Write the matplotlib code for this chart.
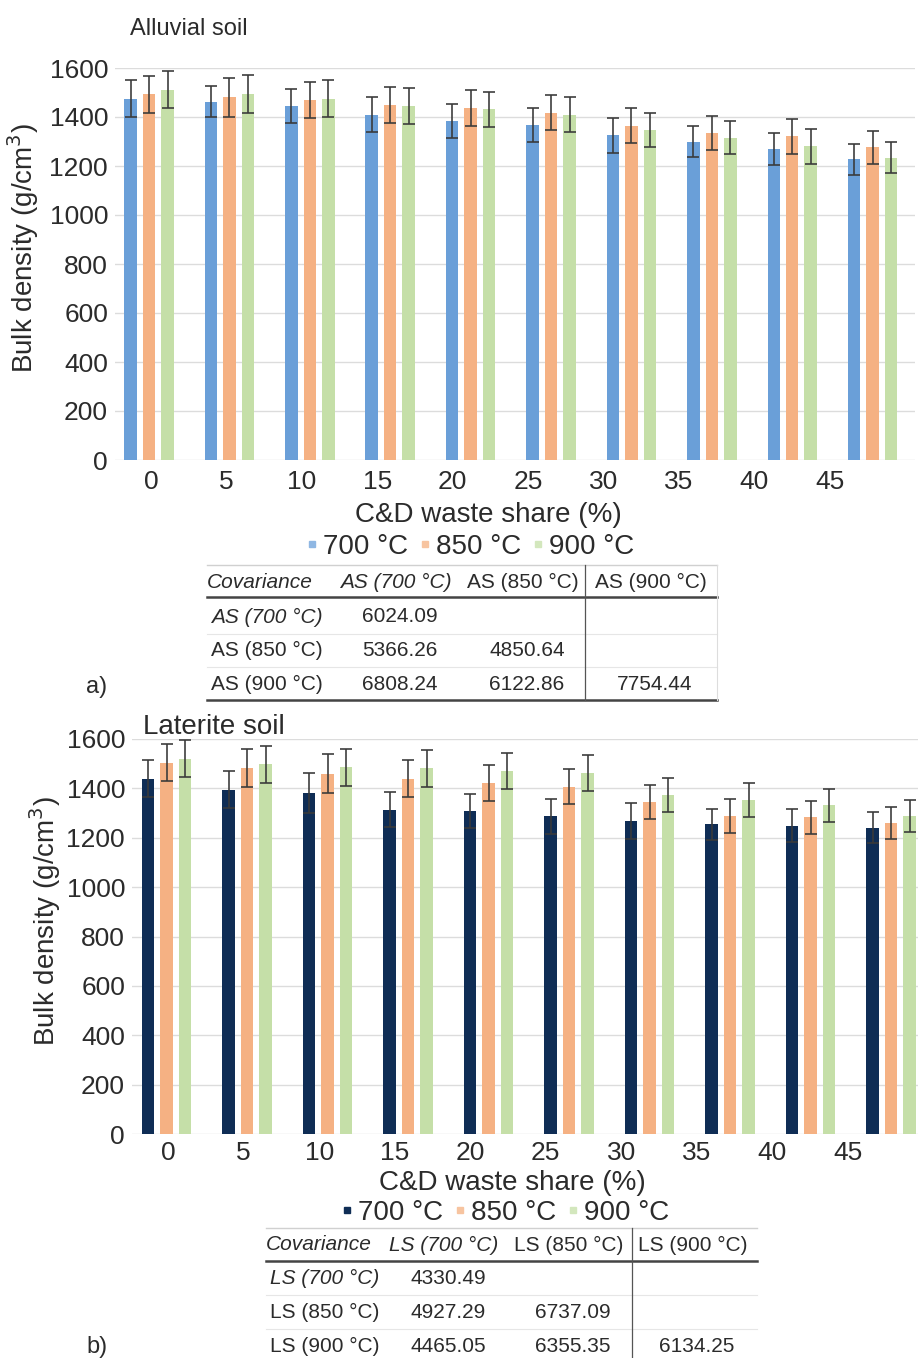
import numpy as np
import matplotlib
matplotlib.use("Agg")
import matplotlib.pyplot as plt
from matplotlib.lines import Line2D

plt.rcParams["font.family"] = ["Liberation Sans", "DejaVu Sans"]

# ---- data -------------------------------------------------------------
shares = ["0", "5", "10", "15", "20", "25", "30", "35", "40", "45"]
temps = ["700 °C", "850 °C", "900 °C"]

as_700 = [1475, 1463, 1444, 1409, 1383, 1366, 1325, 1299, 1270, 1227]
as_850 = [1492, 1481, 1469, 1448, 1436, 1418, 1364, 1335, 1321, 1276]
as_900 = [1511, 1493, 1475, 1445, 1431, 1409, 1346, 1316, 1280, 1234]
as_err_700 = [76, 64, 70, 72, 70, 70, 70, 64, 64, 62]
as_err_850 = [74, 80, 74, 74, 74, 72, 72, 68, 70, 66]
as_err_900 = [76, 78, 76, 72, 72, 72, 70, 68, 70, 64]

ls_700 = [1439, 1395, 1382, 1314, 1308, 1287, 1267, 1254, 1249, 1240]
ls_850 = [1504, 1482, 1460, 1440, 1421, 1406, 1343, 1289, 1283, 1259]
ls_900 = [1521, 1497, 1485, 1481, 1469, 1463, 1373, 1354, 1331, 1287]
ls_err_700 = [75, 74, 81, 70, 68, 70, 72, 64, 68, 63]
ls_err_850 = [74, 76, 78, 74, 72, 71, 69, 69, 66, 66]
ls_err_900 = [76, 74, 76, 74, 73, 74, 70, 69, 68, 64]

as_labels = ["AS (700 °C)", "AS (850 °C)", "AS (900 °C)"]
ls_labels = ["LS (700 °C)", "LS (850 °C)", "LS (900 °C)"]
as_cov = [["6024.09"], ["5366.26", "4850.64"], ["6808.24", "6122.86", "7754.44"]]
ls_cov = [["4330.49"], ["4927.29", "6737.09"], ["4465.05", "6355.35", "6134.25"]]

# ---- layout helpers (pixel positions on a 918 x 1358 canvas) ----------
W, H = 918, 1358
fig = plt.figure(figsize=(W / 100, H / 100), dpi=100)


def fx(x):
    return x / W


def fy(y):
    return 1 - y / H


def axes_px(left, top, right, bottom):
    return fig.add_axes([fx(left), fy(bottom), (right - left) / W, (bottom - top) / H])


TEXT = "#2b2b2b"
GRID = "#dcdcdc"
ERR = "#3a3a3a"
BAR_W = 0.155
OFFS = [-0.23, 0.0, 0.23]
TICK_STEP = 0.938


def bar_panel(ax, series, errs, colors, xlim, tick_off, label_x, xpad):
    x = np.arange(len(shares))
    for off, vals, err, col in zip(OFFS, series, errs, colors):
        ax.bar(x + off, vals, width=BAR_W, color=col, zorder=2)
        ax.errorbar(x + off, vals, yerr=err, fmt="none", ecolor=ERR,
                    elinewidth=1.3, capsize=4, capthick=1.3, zorder=3,
                    alpha=0.9, clip_on=False)
    ax.set_ylim(0, 1600)
    ax.set_xlim(*xlim)
    ax.set_yticks(np.arange(0, 1601, 200))
    ax.yaxis.grid(True, color=GRID, lw=1.0, zorder=0)
    ax.set_axisbelow(True)
    ax.set_xticks(tick_off + TICK_STEP * x)
    ax.set_xticklabels(shares)
    for s in ax.spines.values():
        s.set_visible(False)
    ax.tick_params(axis="both", length=0, labelsize=19, colors=TEXT)
    ax.tick_params(axis="x", pad=xpad)
    ax.tick_params(axis="y", pad=5)
    ax.set_ylabel("Bulk density (g/cm$^3$)", fontsize=20, color=TEXT)
    ax.yaxis.set_label_coords(label_x, 0.54)


def legend_at(colors, cx, cy):
    handles = [Line2D([], [], ls="none", marker="s", ms=5, color=c) for c in colors]
    fig.legend(handles, temps, loc="center", bbox_to_anchor=(fx(cx), fy(cy)),
               ncol=3, frameon=False, fontsize=20, handlelength=0.5,
               handletextpad=0.15, columnspacing=0.35, labelcolor=TEXT,
               borderaxespad=0, borderpad=0)


def hline(y, x0, x1, color, lw):
    fig.add_artist(Line2D([fx(x0), fx(x1)], [fy(y), fy(y)], color=color, lw=lw))


def vline(x, y0, y1, color, lw):
    fig.add_artist(Line2D([fx(x), fx(x)], [fy(y0), fy(y1)], color=color, lw=lw))


def cov_table(labels, cov, x_left, col_centers, y_head, y_rows, x_right,
              y_top_line, y_head_line, y_bottom_line, x_vert):
    fs = 15
    fig.text(fx(x_left), fy(y_head), "Covariance", style="italic", fontsize=fs,
             color=TEXT, ha="left", va="center")
    for j, (lab, cx) in enumerate(zip(labels, col_centers)):
        fig.text(fx(cx), fy(y_head), lab, style="italic" if j == 0 else "normal",
                 fontsize=fs, color=TEXT, ha="center", va="center")
    for i, (lab, yr) in enumerate(zip(labels, y_rows)):
        fig.text(fx(x_left + 4), fy(yr), lab, style="italic" if i == 0 else "normal",
                 fontsize=fs, color=TEXT, ha="left", va="center")
        for j, val in enumerate(cov[i]):
            fig.text(fx(col_centers[j] + 4), fy(yr), val, fontsize=fs, color=TEXT,
                     ha="center", va="center")
    hline(y_top_line, x_left, x_right, "#d0d0d0", 1.0)
    hline(y_head_line, x_left, x_right, "#444444", 1.8)
    for k in range(len(y_rows) - 1):
        ymid = (y_rows[k] + y_rows[k + 1]) / 2
        hline(ymid, x_left, x_right, "#e6e6e6", 0.8)
    if y_bottom_line is not None:
        hline(y_bottom_line, x_left, x_right, "#444444", 1.8)
        vline(x_right, y_top_line, y_bottom_line, "#dddddd", 0.8)
        vline(x_vert, y_top_line, y_bottom_line, "#555555", 0.9)
    else:
        vline(x_vert, y_top_line, H, "#555555", 0.9)


# ---- a) alluvial soil --------------------------------------------------
ax1 = axes_px(115, 68, 915, 460)
bar_panel(ax1, [as_700, as_850, as_900], [as_err_700, as_err_850, as_err_900],
          ["#6a9fd8", "#f5b183", "#c5dfa8"], (-0.423, 9.527), 0.025, -0.0925, 7)
fig.text(fx(130), fy(29), "Alluvial soil", fontsize=17, color=TEXT, ha="left", va="center")
fig.text(fx(488), fy(515), "C&D waste share (%)", fontsize=20, color=TEXT,
         ha="center", va="center")
legend_at(["#8fb7e3", "#f7c4a0", "#d3e7bd"], 470, 547)
cov_table(as_labels, as_cov, 207, [396, 523, 651], 582, [617, 650, 684], 717,
          565, 597, 700, 585)
fig.text(fx(86), fy(687), "a)", fontsize=17, color=TEXT, ha="left", va="center")

# ---- b) laterite soil --------------------------------------------------
ax2 = axes_px(132, 739, 918, 1134)
bar_panel(ax2, [ls_700, ls_850, ls_900], [ls_err_700, ls_err_850, ls_err_900],
          ["#0f2d55", "#f5b183", "#c5dfa8"], (-0.429, 9.335), 0.02, -0.088, 5)
fig.text(fx(143), fy(727), "Laterite soil", fontsize=20, color=TEXT, ha="left",
         va="center")
fig.text(fx(512), fy(1183), "C&D waste share (%)", fontsize=20, color=TEXT,
         ha="center", va="center")
legend_at(["#0f2d55", "#f7c4a0", "#d3e7bd"], 505, 1213)
cov_table(ls_labels, ls_cov, 266, [444, 569, 693], 1245, [1278, 1312, 1346], 757,
          1228, 1261, None, 632)
fig.text(fx(86), fy(1347), "b)", fontsize=17, color=TEXT, ha="left", va="center")

fig.savefig("out.png", dpi=100, facecolor="white")
